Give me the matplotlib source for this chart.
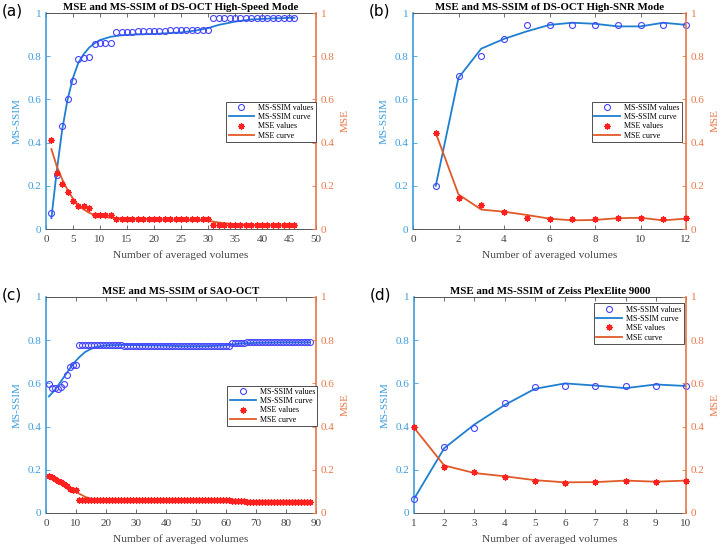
import numpy as np
import matplotlib.pyplot as plt
from matplotlib.lines import Line2D

# ---- panel (a): DS-OCT High-Speed Mode ----
a_x = list(range(1, 47))
a_ssim = [0.075, 0.25, 0.475, 0.60, 0.685, 0.785, 0.79, 0.795, 0.855, 0.86, 0.862, 0.862,
          0.91, 0.912, 0.912, 0.913, 0.915, 0.915, 0.916, 0.917, 0.918, 0.918, 0.919, 0.919,
          0.92, 0.92, 0.921, 0.921, 0.922, 0.922,
          0.975, 0.975, 0.976, 0.976, 0.977, 0.977, 0.977, 0.977, 0.978, 0.978, 0.978, 0.978,
          0.978, 0.978, 0.978, 0.978]
a_mse = [0.41, 0.26, 0.21, 0.17, 0.13, 0.105, 0.105, 0.095, 0.065, 0.065, 0.065, 0.065,
         0.048, 0.048, 0.048, 0.047, 0.047, 0.047, 0.046, 0.046, 0.046, 0.046, 0.046, 0.046,
         0.046, 0.046, 0.046, 0.046, 0.046, 0.046,
         0.02, 0.02, 0.02, 0.02, 0.02, 0.02, 0.02, 0.02, 0.02, 0.02, 0.02, 0.02,
         0.02, 0.02, 0.02, 0.02]
a_cx = [1, 2, 3, 4, 5, 6, 7, 8, 9, 10, 12, 14, 16, 20, 25, 28, 30, 32, 35, 38, 42, 46]
a_ssim_fit = [0.05, 0.27, 0.46, 0.60, 0.70, 0.77, 0.81, 0.84, 0.86, 0.875, 0.89, 0.897,
              0.90, 0.903, 0.91, 0.92, 0.93, 0.945, 0.96, 0.97, 0.975, 0.978]
a_mse_fit = [0.37, 0.29, 0.23, 0.18, 0.14, 0.11, 0.09, 0.075, 0.065, 0.058, 0.052, 0.049,
             0.048, 0.045, 0.042, 0.04, 0.038, 0.03, 0.022, 0.018, 0.017, 0.016]

# ---- panel (b): DS-OCT High-SNR Mode ----
b_x = list(range(1, 13))
b_ssim = [0.20, 0.71, 0.80, 0.88, 0.945, 0.945, 0.945, 0.945, 0.945, 0.945, 0.945, 0.945]
b_mse = [0.445, 0.145, 0.11, 0.08, 0.05, 0.048, 0.045, 0.047, 0.05, 0.05, 0.045, 0.05]
b_ssim_fit = [0.20, 0.70, 0.835, 0.88, 0.915, 0.945, 0.955, 0.95, 0.938, 0.938, 0.955, 0.945]
b_mse_fit = [0.445, 0.16, 0.09, 0.08, 0.065, 0.048, 0.04, 0.042, 0.05, 0.052, 0.04, 0.048]

# ---- panel (c): SAO-OCT ----
c_x = list(range(1, 89))
c_ssim = ([0.595, 0.58, 0.58, 0.575, 0.585, 0.595, 0.64, 0.675, 0.685, 0.685]
          + [0.777] * 15 + [0.774] * 20 + [0.771] * 16
          + [0.786] * 5 + [0.791] * 22)
c_mse = ([0.172, 0.165, 0.158, 0.15, 0.142, 0.133, 0.125, 0.11, 0.105, 0.105]
         + [0.058] * 51 + [0.055] * 5 + [0.052] * 22)
c_cx = [1, 3, 5, 7, 9, 11, 13, 15, 17, 20, 25, 30, 40, 45, 50, 55, 60, 62, 65, 70, 80, 88]
c_ssim_fit = [0.54, 0.57, 0.61, 0.65, 0.69, 0.72, 0.745, 0.76, 0.77, 0.776, 0.778, 0.777,
              0.775, 0.772, 0.772, 0.773, 0.776, 0.78, 0.785, 0.788, 0.79, 0.79]
c_mse_fit = [0.175, 0.16, 0.145, 0.128, 0.11, 0.09, 0.075, 0.066, 0.062, 0.06, 0.06, 0.06,
             0.06, 0.06, 0.06, 0.06, 0.06, 0.058, 0.056, 0.054, 0.053, 0.053]

# ---- panel (d): Zeiss PlexElite 9000 ----
d_x = list(range(1, 11))
d_ssim = [0.065, 0.305, 0.395, 0.51, 0.585, 0.59, 0.59, 0.588, 0.59, 0.59]
d_mse = [0.40, 0.215, 0.19, 0.165, 0.15, 0.14, 0.145, 0.15, 0.145, 0.148]
d_ssim_fit = [0.065, 0.30, 0.41, 0.50, 0.575, 0.60, 0.59, 0.578, 0.595, 0.588]
d_mse_fit = [0.395, 0.22, 0.185, 0.17, 0.152, 0.142, 0.143, 0.15, 0.145, 0.15]

BLUE_AX = '#3d9ddd'
ORANGE_AX = '#e8784a'
BLUE_LINE = '#1f7fd0'
ORANGE_LINE = '#e05a28'
CIRC = '#4444ff'
STAR = '#ff2020'
SERIF = 'Liberation Serif'

W, H = 722, 546
fig = plt.figure(figsize=(W / 100, H / 100), dpi=100)


def px_axes(left, top, right, bottom):
    return fig.add_axes([left / W, 1 - bottom / H, (right - left) / W, (bottom - top) / H])


def panel(box, letter, title, x, ssim, mse, cx, ssim_fit, mse_fit, xlim, xticks, leg_loc):
    ax = px_axes(*box)
    ax2 = ax.twinx()
    ax.plot(x, ssim, 'o', mfc='none', mec=CIRC, ms=4.3, mew=0.8, zorder=3, clip_on=False)
    ax.plot(cx, ssim_fit, '-', color=BLUE_LINE, lw=1.3, zorder=2)
    ax2.plot(x, mse, ls='none', marker=(8, 2, 0), color=STAR, ms=4.5, mew=0.9, zorder=3,
             clip_on=False)
    ax2.plot(cx, mse_fit, '-', color=ORANGE_LINE, lw=1.3, zorder=2)

    for a in (ax, ax2):
        a.set_xlim(*xlim)
        a.set_ylim(0, 1)
        a.set_yticks(np.arange(0, 1.01, 0.2))
        a.set_yticklabels(['0', '0.2', '0.4', '0.6', '0.8', '1'])
        a.tick_params(direction='in', length=3, width=0.6, labelsize=8)
        for lab in a.get_yticklabels() + a.get_xticklabels():
            lab.set_fontfamily(SERIF)
    ax.set_xticks(xticks)
    ax.set_xticklabels([str(t) for t in xticks])
    ax.tick_params(axis='x', top=True, colors='#555555', labelcolor='#444444', pad=4)
    ax.tick_params(axis='y', colors=BLUE_AX)
    ax2.tick_params(axis='y', colors=ORANGE_AX)
    ax.spines['left'].set_color(BLUE_AX)
    ax.spines['left'].set_linewidth(1.2)
    ax2.spines['left'].set_visible(False)
    ax2.spines['right'].set_color(ORANGE_AX)
    ax2.spines['right'].set_linewidth(1.2)
    ax.spines['right'].set_visible(False)
    for s in ('top', 'bottom'):
        ax.spines[s].set_color('#555555')
        ax.spines[s].set_linewidth(0.7)
        ax2.spines[s].set_visible(False)

    ax.set_xlabel('Number of averaged volumes', fontfamily=SERIF, fontsize=8.2,
                  color='#444444', labelpad=5)
    ax.set_ylabel('MS-SSIM', fontfamily=SERIF, fontsize=8, color=BLUE_AX, labelpad=4)
    ax2.set_ylabel('MSE', fontfamily=SERIF, fontsize=8, color=ORANGE_AX, labelpad=4)
    ax.set_title(title, fontfamily=SERIF, fontsize=7.8, fontweight='bold', pad=2)

    handles = [
        Line2D([], [], ls='none', marker='o', mfc='none', mec=CIRC, ms=4.3, mew=0.8),
        Line2D([], [], color=BLUE_LINE, lw=1.3),
        Line2D([], [], ls='none', marker=(8, 2, 0), color=STAR, ms=4.5, mew=0.9),
        Line2D([], [], color=ORANGE_LINE, lw=1.3),
    ]
    labels = ['MS-SSIM values', 'MS-SSIM curve', 'MSE values', 'MSE curve']
    leg = ax2.legend(handles, labels, loc='upper left', bbox_to_anchor=leg_loc,
                     prop={'family': SERIF, 'size': 5.8}, frameon=True, fancybox=False,
                     edgecolor='#333333', framealpha=1, borderpad=0.3, labelspacing=0.15,
                     handlelength=3.2, handletextpad=0.5, borderaxespad=0)
    leg.get_frame().set_linewidth(0.6)

    fig.text((box[0] - 44) / W, 1 - (box[1] - 9) / H, letter,
             fontsize=11, fontfamily='DejaVu Sans', va='top', ha='left')


panel((46, 13, 316, 229), '(a)', 'MSE and MS-SSIM of DS-OCT High-Speed Mode',
      a_x, a_ssim, a_mse, a_cx, a_ssim_fit, a_mse_fit, (0, 50), list(range(0, 51, 5)),
      (0.667, 0.59))
panel((413, 13, 686, 229), '(b)', 'MSE and MS-SSIM of DS-OCT High-SNR Mode',
      b_x, b_ssim, b_mse, b_x, b_ssim_fit, b_mse_fit, (0, 12), list(range(0, 13, 2)),
      (0.655, 0.59))
panel((46, 297, 316, 513), '(c)', 'MSE and MS-SSIM of SAO-OCT',
      c_x, c_ssim, c_mse, c_cx, c_ssim_fit, c_mse_fit, (0, 90), list(range(0, 91, 10)),
      (0.672, 0.59))
panel((414, 297, 686, 513), '(d)', 'MSE and MS-SSIM of Zeiss PlexElite 9000',
      d_x, d_ssim, d_mse, d_x, d_ssim_fit, d_mse_fit, (1, 10), list(range(1, 11)),
      (0.662, 0.97))

fig.savefig('out.png', dpi=100)
